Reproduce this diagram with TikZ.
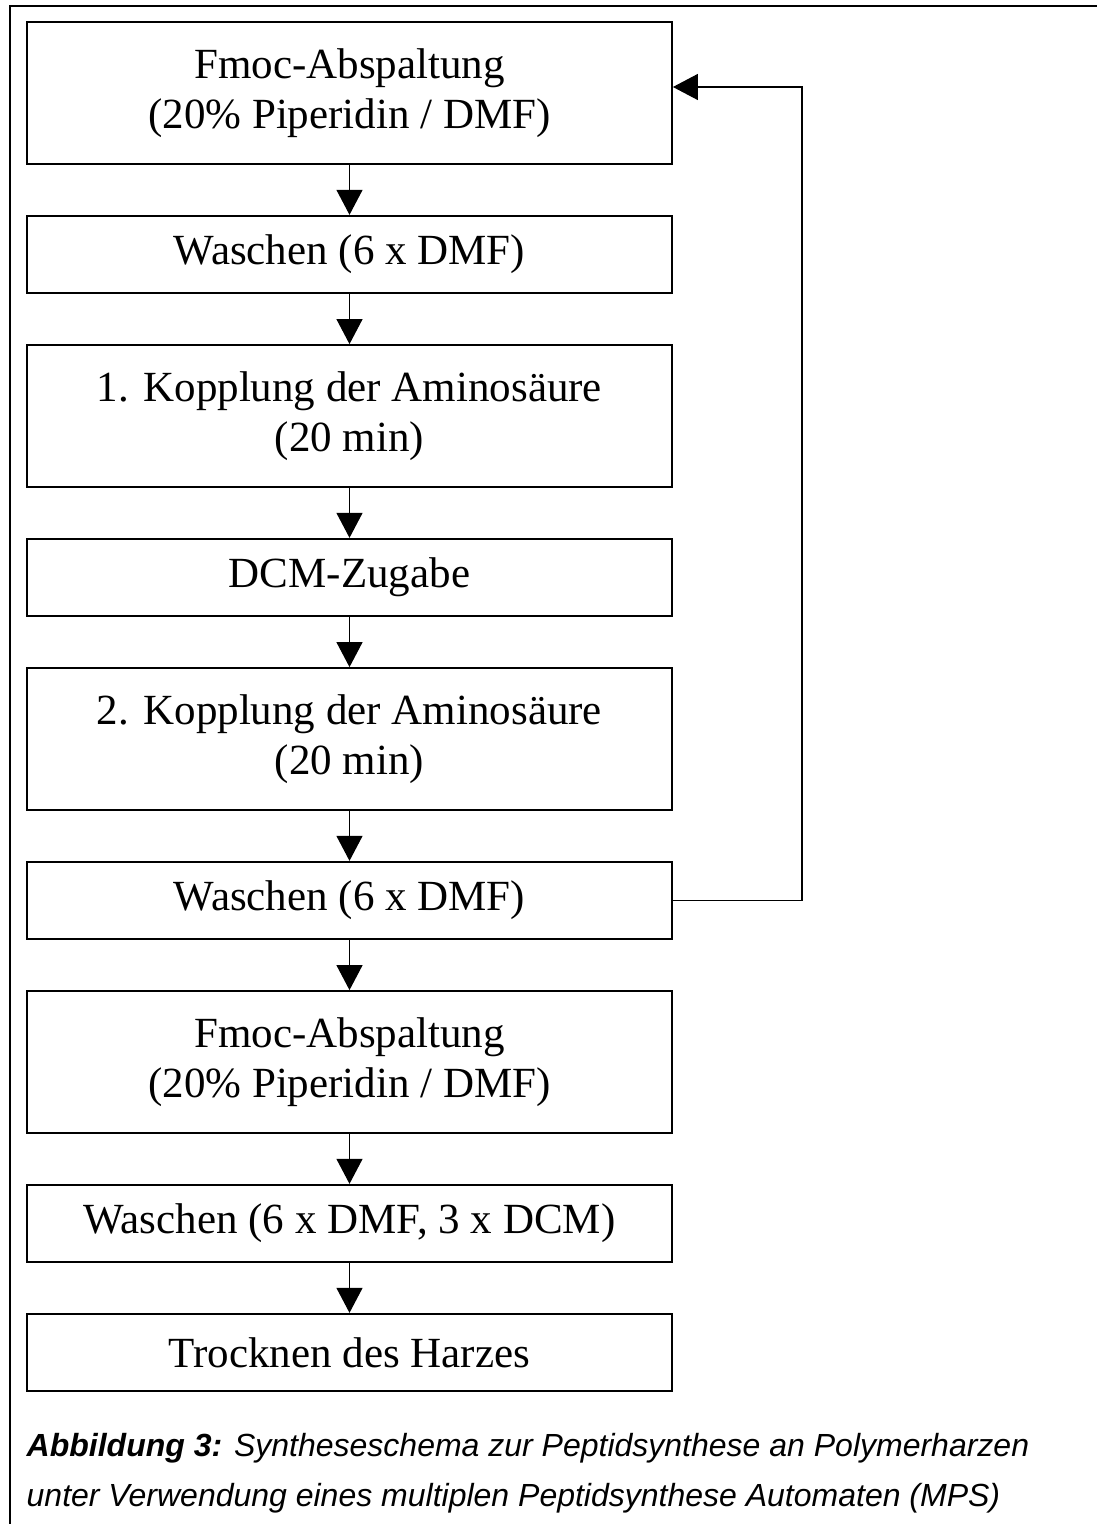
\documentclass[tikz,border=0pt]{standalone}
\usepackage{fontspec}
\setmainfont{Liberation Serif}
\newfontfamily\capfont{Liberation Sans}
\usetikzlibrary{arrows.meta}

\begin{document}
\begin{tikzpicture}[
  block/.style={rectangle, draw, line width=0.9pt, minimum width=322.5pt, minimum height=38.75pt, align=center, font=\fontsize{21.5}{25}\selectfont},
  tall/.style={block, minimum height=71pt},
  >={Triangle[length=12.5pt, width=13pt]},
  line width=0.6pt,
  node distance=80.75pt
]
\useasboundingbox (0,0) rectangle (548.5pt,-762pt);
\draw[line width=1pt] (5pt,-762pt) -- (5pt,-3pt) -- (548.5pt,-3pt);

\node[tall] (fmoc) at (174.75pt,-46.5pt) {Fmoc-Abspaltung\\(20\% Piperidin / DMF)};
\node[block, below of=fmoc] (wash) {Waschen (6 x DMF)};
\node[tall, below of=wash] (couple1) {1. Kopplung der Aminosäure\\(20 min)};
\node[block, below of=couple1] (dcm) {DCM-Zugabe};
\node[tall, below of=dcm] (couple2) {2. Kopplung der Aminosäure\\(20 min)};
\node[block, below of=couple2] (wash2) {Waschen (6 x DMF)};
\node[tall, below of=wash2] (fmoc2) {Fmoc-Abspaltung\\(20\% Piperidin / DMF)};
\node[block, below of=fmoc2] (washfin) {Waschen (6 x DMF, 3 x DCM)};
\node[block, below of=washfin, node distance=64.5pt] (dry) {Trocknen des Harzes};

\node[anchor=base west, inner sep=0pt, align=left, font=\capfont\itshape\fontsize{16}{25}\selectfont] (caption) at ([yshift=-57pt]dry.south west) {\textbf{Abbildung 3:} Syntheseschema zur Peptidsynthese an Polymerharzen\\unter Verwendung eines multiplen Peptidsynthese Automaten (MPS)};

\draw[->] (fmoc) -- (wash);
\draw[->] (wash) -- (couple1);
\draw[->] (couple1) -- (dcm);
\draw[->] (dcm) -- (couple2);
\draw[->] (couple2) -- (wash2);
\draw[->] (wash2) -- (fmoc2);
\draw[->] (fmoc2) -- (washfin);
\draw[->] (washfin) -- (dry);
\draw[->] (wash2.east) -- ++(64.5pt,0) |- ([yshift=3pt]fmoc.east);
\end{tikzpicture}
\end{document}
